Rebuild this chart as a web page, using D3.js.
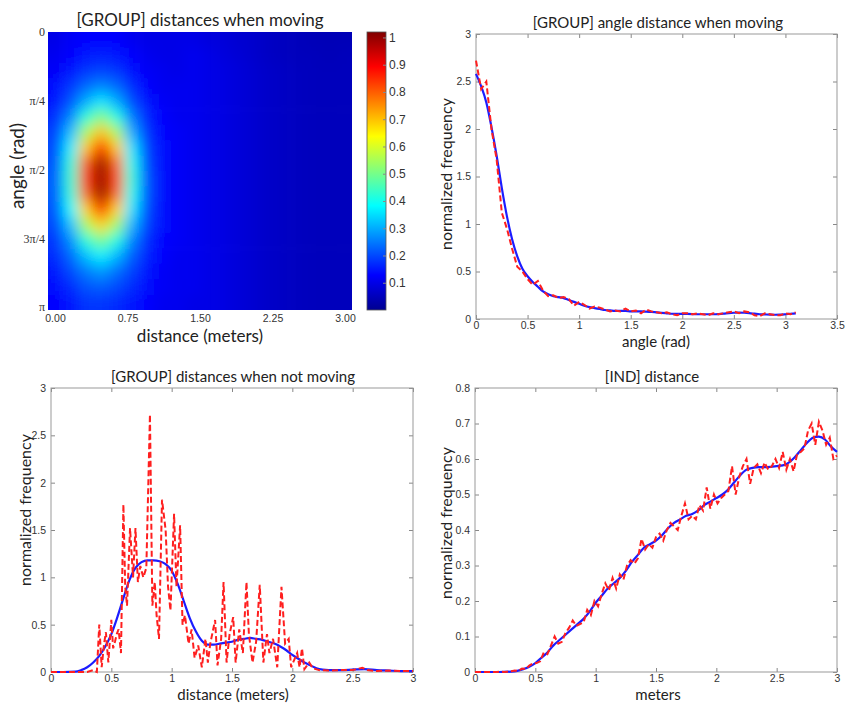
<!DOCTYPE html>
<html>
<head>
<meta charset="utf-8">
<script src="https://cdn.jsdelivr.net/npm/d3@7"></script>
<style>
  body { margin: 0; background: #fff; }
  text { font-family: "Liberation Sans", Arial, sans-serif; }
  .tick text { fill: #333; font-size: 10.5px; }
  .tick line { stroke: #888; }
  .lbl { font-family: Lato, "Open Sans", sans-serif; fill: #222; }
</style>
</head>
<body>
<div id="chart"></div>
<script>
// ---------- data ----------
// heatmap bins (bin centres)
var distBins = [0.075, 0.225, 0.375, 0.525, 0.675, 0.825, 0.975, 1.125, 1.275, 1.425,
                1.575, 1.725, 1.875, 2.025, 2.175, 2.325, 2.475, 2.625, 2.775, 2.925];
var angleBins = [0.09, 0.26, 0.44, 0.61, 0.79, 0.96, 1.13, 1.31, 1.48, 1.66,
                 1.83, 2.01, 2.18, 2.36, 2.53, 2.71, 2.88, 3.05];
// one row per angle bin, one value per distance bin
var heatValues = [
  [0.10,0.12,0.13,0.13,0.13,0.11,0.10,0.10,0.10,0.10,0.09,0.085,0.075,0.07,0.06,0.055,0.05,0.045,0.045,0.045],
  [0.11,0.13,0.15,0.16,0.15,0.13,0.11,0.10,0.10,0.11,0.10,0.09,0.08,0.07,0.06,0.055,0.05,0.05,0.045,0.05],
  [0.12,0.15,0.18,0.19,0.18,0.14,0.12,0.11,0.10,0.11,0.10,0.095,0.085,0.075,0.065,0.06,0.055,0.05,0.05,0.05],
  [0.14,0.18,0.23,0.26,0.23,0.17,0.13,0.11,0.11,0.11,0.10,0.095,0.085,0.075,0.065,0.06,0.055,0.05,0.05,0.05],
  [0.15,0.21,0.30,0.36,0.30,0.20,0.15,0.12,0.11,0.11,0.10,0.095,0.085,0.075,0.065,0.06,0.055,0.05,0.05,0.05],
  [0.17,0.26,0.42,0.51,0.41,0.25,0.16,0.13,0.11,0.11,0.10,0.095,0.085,0.075,0.065,0.06,0.055,0.05,0.05,0.05],
  [0.19,0.32,0.55,0.70,0.55,0.30,0.18,0.13,0.12,0.11,0.10,0.095,0.085,0.075,0.065,0.06,0.055,0.05,0.05,0.05],
  [0.20,0.37,0.69,0.89,0.69,0.36,0.19,0.14,0.12,0.11,0.10,0.095,0.085,0.075,0.065,0.06,0.055,0.05,0.05,0.05],
  [0.21,0.42,0.80,1.00,0.79,0.40,0.20,0.14,0.12,0.11,0.10,0.095,0.085,0.075,0.065,0.06,0.055,0.05,0.05,0.05],
  [0.22,0.43,0.84,1.00,0.83,0.42,0.21,0.14,0.12,0.11,0.10,0.095,0.085,0.075,0.065,0.06,0.055,0.05,0.05,0.05],
  [0.22,0.42,0.79,1.00,0.79,0.40,0.21,0.14,0.12,0.11,0.10,0.095,0.085,0.075,0.065,0.06,0.055,0.05,0.05,0.05],
  [0.21,0.38,0.68,0.87,0.68,0.36,0.20,0.14,0.12,0.11,0.10,0.095,0.085,0.075,0.065,0.06,0.055,0.05,0.05,0.05],
  [0.20,0.32,0.55,0.68,0.54,0.31,0.19,0.14,0.12,0.11,0.10,0.095,0.085,0.075,0.065,0.06,0.055,0.05,0.05,0.05],
  [0.18,0.27,0.42,0.50,0.41,0.26,0.17,0.13,0.12,0.11,0.10,0.095,0.085,0.075,0.065,0.06,0.055,0.05,0.05,0.05],
  [0.17,0.23,0.32,0.37,0.31,0.22,0.16,0.13,0.11,0.11,0.10,0.095,0.085,0.075,0.065,0.06,0.055,0.05,0.05,0.05],
  [0.15,0.20,0.25,0.28,0.24,0.19,0.15,0.12,0.11,0.11,0.10,0.095,0.085,0.075,0.065,0.06,0.055,0.05,0.05,0.05],
  [0.14,0.17,0.21,0.22,0.20,0.17,0.14,0.12,0.11,0.11,0.10,0.095,0.085,0.075,0.065,0.06,0.055,0.05,0.05,0.05],
  [0.13,0.15,0.18,0.18,0.17,0.15,0.13,0.11,0.11,0.10,0.10,0.095,0.085,0.075,0.065,0.06,0.055,0.05,0.05,0.05]
];
var heatXTicks = [0, 0.75, 1.5, 2.25, 3];
var heatXLabels = ["0.00", "0.75", "1.50", "2.25", "3.00"];
var heatYTicks = [0, Math.PI / 4, Math.PI / 2, 3 * Math.PI / 4, Math.PI];
var heatYLabels = ["0", "\u03c0/4", "\u03c0/2", "3\u03c0/4", "\u03c0"];
var colorbarTicks = [0.1, 0.2, 0.3, 0.4, 0.5, 0.6, 0.7, 0.8, 0.9, 1];

// [GROUP] angle distance when moving
var angleX = [0,0.05,0.1,0.15,0.2,0.25,0.3,0.35,0.4,0.45,0.5,0.55,0.6,0.65,0.7,0.75,0.8,0.85,0.9,0.95,
  1,1.05,1.1,1.15,1.2,1.25,1.3,1.35,1.4,1.45,1.5,1.55,1.6,1.65,1.7,1.75,1.8,1.85,1.9,1.95,
  2,2.05,2.1,2.15,2.2,2.25,2.3,2.35,2.4,2.45,2.5,2.55,2.6,2.65,2.7,2.75,2.8,2.85,2.9,2.95,3,3.05,3.1];
var angleRaw = [2.72,2.42,2.50,2.00,1.68,1.12,0.95,0.74,0.55,0.50,0.42,0.36,0.40,0.30,0.24,0.25,0.22,0.23,0.21,0.14,
  0.18,0.15,0.11,0.13,0.12,0.10,0.08,0.09,0.08,0.11,0.08,0.09,0.06,0.10,0.08,0.07,0.06,0.07,0.05,0.04,
  0.06,0.06,0.05,0.06,0.05,0.04,0.06,0.05,0.06,0.07,0.08,0.06,0.08,0.07,0.04,0.03,0.06,0.05,0.04,0.04,0.06,0.05,0.07];
var angleSmooth = [2.58,2.45,2.28,2.02,1.72,1.38,1.08,0.84,0.66,0.53,0.45,0.39,0.34,0.29,0.26,0.24,0.23,0.22,0.20,0.18,
  0.16,0.14,0.125,0.115,0.105,0.095,0.09,0.085,0.085,0.085,0.08,0.08,0.08,0.078,0.075,0.07,0.065,0.06,0.055,0.053,
  0.053,0.053,0.052,0.05,0.05,0.05,0.05,0.052,0.056,0.062,0.066,0.068,0.066,0.062,0.056,0.05,0.048,0.046,0.045,0.046,0.05,0.055,0.06];

// [GROUP] distances when not moving
var stillRawX = [0,0.1,0.2,0.3,0.35,0.38,0.40,0.42,0.44,0.455,0.475,0.50,0.515,0.53,0.545,0.56,0.58,0.60,0.615,0.63,
  0.655,0.68,0.70,0.72,0.74,0.765,0.79,0.82,0.84,0.86,0.875,0.895,0.92,0.95,0.97,0.99,1.02,1.04,1.07,1.09,
  1.11,1.14,1.165,1.19,1.22,1.25,1.28,1.30,1.32,1.36,1.38,1.41,1.43,1.455,1.48,1.51,1.53,1.56,1.59,1.62,
  1.64,1.67,1.70,1.73,1.76,1.79,1.81,1.84,1.875,1.91,1.94,1.97,1.99,2.04,2.06,2.08,2.10,2.14,2.17,2.22,
  2.3,2.4,2.5,2.58,2.62,2.7,2.8,2.9,3.0];
var stillRawY = [0,0,0,0,0.02,0,0.5,0.05,0.3,0.42,0.1,0.55,0.25,0.32,0.4,0.45,0.2,1.77,0.9,0.7,
  1.52,1.0,1.52,0.95,1.12,1.0,1.1,2.72,0.7,0.95,0.6,0.35,1.82,1.5,0.9,0.65,1.67,0.9,1.55,0.5,
  0.6,0.3,0.45,0.15,0.28,0.05,0.35,0.1,0.3,0.55,0.07,0.35,0.95,0.1,0.4,0.58,0.1,0.45,0.2,0.95,
  0.4,0.1,0.32,0.92,0.1,0.4,0.2,0.35,0.05,0.9,0.3,0.35,0.05,0.2,0.05,0.25,0.03,0.1,0.04,0.02,
  0.015,0.02,0.02,0.045,0.02,0.01,0.015,0.01,0.01];
var stillSmoothX = [0,0.1,0.2,0.25,0.3,0.35,0.4,0.45,0.5,0.55,0.6,0.65,0.7,0.75,0.8,0.85,0.9,0.95,1,1.05,
  1.1,1.15,1.2,1.25,1.3,1.35,1.4,1.45,1.5,1.55,1.6,1.65,1.7,1.75,1.8,1.85,1.9,1.95,2,2.05,
  2.1,2.15,2.2,2.25,2.3,2.4,2.5,2.6,2.7,2.8,2.9,3];
var stillSmoothY = [0,0,0.003,0.02,0.05,0.1,0.17,0.27,0.4,0.58,0.78,0.97,1.1,1.16,1.18,1.18,1.17,1.14,1.07,0.93,
  0.75,0.57,0.43,0.33,0.29,0.29,0.3,0.31,0.32,0.34,0.35,0.36,0.35,0.34,0.32,0.3,0.27,0.23,0.18,0.14,
  0.1,0.07,0.04,0.025,0.02,0.02,0.025,0.03,0.02,0.015,0.01,0.01];

// [IND] distance
var indRawX = [0,0.03,0.06,0.09,0.12,0.15,0.18,0.21,0.24,0.27,0.3,0.33,0.36,0.39,0.42,0.45,0.48,0.51,0.54,0.57,
  0.6,0.63,0.66,0.69,0.72,0.75,0.78,0.81,0.84,0.87,0.9,0.93,0.96,0.99,1.02,1.05,1.08,1.11,1.14,1.17,
  1.2,1.23,1.26,1.29,1.32,1.35,1.38,1.41,1.44,1.47,1.5,1.53,1.56,1.59,1.62,1.65,1.68,1.71,1.74,1.77,
  1.8,1.83,1.86,1.89,1.92,1.95,1.98,2.01,2.04,2.07,2.1,2.13,2.16,2.19,2.22,2.25,2.28,2.31,2.34,2.37,
  2.4,2.43,2.46,2.49,2.52,2.55,2.58,2.61,2.64,2.67,2.7,2.73,2.76,2.79,2.82,2.85,2.88,2.91,2.94,2.97,3];
var indRawY = [0,0,0,0,0,0,0,0.001,0,0.001,0.002,0.004,0.003,0.01,0.008,0.018,0.024,0.025,0.03,0.055,
  0.05,0.075,0.1,0.08,0.085,0.11,0.125,0.145,0.13,0.135,0.14,0.175,0.16,0.2,0.185,0.22,0.25,0.23,0.265,0.235,
  0.275,0.26,0.3,0.315,0.305,0.32,0.375,0.345,0.36,0.35,0.38,0.39,0.37,0.4,0.42,0.41,0.4,0.44,0.475,0.43,
  0.44,0.43,0.47,0.455,0.52,0.46,0.5,0.475,0.49,0.5,0.51,0.58,0.5,0.55,0.58,0.6,0.53,0.575,0.585,0.56,
  0.59,0.57,0.58,0.6,0.575,0.62,0.57,0.6,0.565,0.615,0.62,0.63,0.68,0.7,0.64,0.705,0.68,0.64,0.66,0.6,0.61];
var indSmoothX = [0,0.1,0.2,0.3,0.35,0.4,0.45,0.5,0.55,0.6,0.65,0.7,0.75,0.8,0.85,0.9,0.95,1,1.05,1.1,
  1.15,1.2,1.25,1.3,1.35,1.4,1.45,1.5,1.55,1.6,1.65,1.7,1.75,1.8,1.85,1.9,1.95,2,2.05,2.1,
  2.15,2.2,2.25,2.3,2.35,2.4,2.45,2.5,2.55,2.6,2.65,2.7,2.75,2.8,2.85,2.9,2.95,3];
var indSmoothY = [0,0,0,0.001,0.003,0.008,0.015,0.025,0.04,0.055,0.075,0.09,0.105,0.12,0.135,0.15,0.17,0.195,0.215,0.235,
  0.25,0.265,0.285,0.31,0.33,0.35,0.36,0.37,0.385,0.405,0.42,0.43,0.44,0.445,0.455,0.47,0.48,0.49,0.5,0.515,
  0.535,0.555,0.57,0.575,0.577,0.577,0.578,0.58,0.582,0.59,0.605,0.625,0.645,0.66,0.663,0.655,0.635,0.62];

var ticksHalf = [0, 0.5, 1, 1.5, 2, 2.5, 3];
var ticksHalf35 = [0, 0.5, 1, 1.5, 2, 2.5, 3, 3.5];
var ticksTenth = [0, 0.1, 0.2, 0.3, 0.4, 0.5, 0.6, 0.7, 0.8];

// ---------- svg ----------
var svgWidth = 849;
var svgHeight = 704;
var svg = d3.select("#chart").append("svg")
  .attr("width", svgWidth)
  .attr("height", svgHeight);
var defs = svg.append("defs");

var fmt = d3.format("~g");

// jet colour map, same stops for cells and colour bar
var jetStops = [0, 0.125, 0.375, 0.625, 0.875, 1];
var jetColors = ["#000090", "#0000ff", "#00ffff", "#ffff00", "#ff0000", "#800000"];
var cMax = 1.02;
var jet = d3.scaleLinear().domain(jetStops.map(s => s * cMax)).range(jetColors).clamp(true);

// ---------- heatmap ----------
var heat = { left: 48, right: 352, top: 32, bottom: 310 };
var hx = d3.scaleBand().domain(distBins).range([heat.left, heat.right]);
var hy = d3.scaleBand().domain(angleBins).range([heat.top, heat.bottom]);

defs.append("clipPath").attr("id", "heatClip")
  .append("rect")
  .attr("x", heat.left).attr("y", heat.top)
  .attr("width", heat.right - heat.left).attr("height", heat.bottom - heat.top);
defs.append("filter").attr("id", "soft")
  .attr("x", "-20%").attr("y", "-20%").attr("width", "140%").attr("height", "140%")
  .append("feGaussianBlur").attr("stdDeviation", 7);

var cells = [];
heatValues.forEach(function(row, j) {
  row.forEach(function(v, k) {
    cells.push({ d: distBins[k], a: angleBins[j], v: v, k: k, j: j });
  });
});
var lastK = distBins.length - 1, lastJ = angleBins.length - 1, pad = 24;

svg.append("g").attr("clip-path", "url(#heatClip)")
  .append("g").attr("filter", "url(#soft)")
  .selectAll("rect")
  .data(cells)
  .enter()
  .append("rect")
  .attr("x", d => hx(d.d) - (d.k === 0 ? pad : 0))
  .attr("y", d => hy(d.a) - (d.j === 0 ? pad : 0))
  .attr("width", d => hx.bandwidth() + 0.6 + (d.k === 0 || d.k === lastK ? pad : 0))
  .attr("height", d => hy.bandwidth() + 0.6 + (d.j === 0 || d.j === lastJ ? pad : 0))
  .attr("fill", d => jet(d.v));

// heatmap tick labels (image pixel centres sit slightly inside the frame)
var hTickX = d3.scaleLinear().domain([0, 3]).range([heat.left + 7, heat.right - 7]);
var hTickY = d3.scaleLinear().domain([0, Math.PI]).range([heat.top, heat.bottom - 3]);

svg.append("g")
  .attr("transform", `translate(0, ${heat.bottom})`)
  .call(d3.axisBottom(hTickX).tickValues(heatXTicks).tickSize(0).tickPadding(5)
    .tickFormat((d, i) => heatXLabels[i]))
  .call(a => a.select(".domain").remove());

svg.append("g")
  .attr("transform", `translate(${heat.left}, 0)`)
  .call(d3.axisLeft(hTickY).tickValues(heatYTicks).tickSize(0).tickPadding(3)
    .tickFormat((d, i) => heatYLabels[i]))
  .call(a => a.select(".domain").remove())
  .selectAll("text")
  .style("font-family", "'Liberation Serif', 'DejaVu Serif', serif")
  .style("font-size", "12px");

// colour bar
var cb = { left: 367, right: 386, top: 32, bottom: 310 };
var cy = d3.scaleLinear().domain([0, cMax]).range([cb.bottom, cb.top]);
var grad = defs.append("linearGradient").attr("id", "jetGrad")
  .attr("x1", 0).attr("y1", 1).attr("x2", 0).attr("y2", 0);
grad.selectAll("stop")
  .data(jetStops)
  .enter()
  .append("stop")
  .attr("offset", d => d)
  .attr("stop-color", (d, i) => jetColors[i]);

svg.append("rect")
  .attr("x", cb.left).attr("y", cb.top)
  .attr("width", cb.right - cb.left).attr("height", cb.bottom - cb.top)
  .attr("fill", "url(#jetGrad)")
  .attr("stroke", "#555").attr("stroke-width", 0.8);

svg.append("g")
  .attr("transform", `translate(${cb.right}, 0)`)
  .call(d3.axisRight(cy).tickValues(colorbarTicks).tickSizeInner(-3).tickSizeOuter(0).tickPadding(3)
    .tickFormat(fmt))
  .call(a => a.select(".domain").remove())
  .selectAll("text").style("font-size", "12px");

svg.append("text").attr("class", "lbl")
  .attr("x", 200).attr("y", 26)
  .attr("text-anchor", "middle").style("font-size", "17px")
  .text("[GROUP] distances when moving");
svg.append("text").attr("class", "lbl")
  .attr("x", 200).attr("y", 342)
  .attr("text-anchor", "middle").style("font-size", "17px")
  .text("distance (meters)");
svg.append("text").attr("class", "lbl")
  .attr("transform", "translate(24, 166) rotate(-90)")
  .attr("text-anchor", "middle").style("font-size", "19px")
  .text("angle (rad)");

// ---------- line panels ----------
function linePanel(box, xDomain, yDomain, xTicks, yTicks, labels) {
  var x = d3.scaleLinear().domain(xDomain).range([box.left, box.right]);
  var y = d3.scaleLinear().domain(yDomain).range([box.bottom, box.top]);
  var g = svg.append("g");

  g.append("g")
    .attr("transform", `translate(0, ${box.bottom})`)
    .call(d3.axisBottom(x).tickValues(xTicks).tickSizeInner(-4).tickSizeOuter(0).tickPadding(3).tickFormat(fmt))
    .call(a => a.select(".domain").remove());
  g.append("g")
    .attr("transform", `translate(0, ${box.top})`)
    .call(d3.axisTop(x).tickValues(xTicks).tickSizeInner(-4).tickSizeOuter(0).tickFormat(""))
    .call(a => a.select(".domain").remove());
  g.append("g")
    .attr("transform", `translate(${box.left}, 0)`)
    .call(d3.axisLeft(y).tickValues(yTicks).tickSizeInner(-4).tickSizeOuter(0).tickPadding(5).tickFormat(fmt))
    .call(a => a.select(".domain").remove());
  g.append("g")
    .attr("transform", `translate(${box.right}, 0)`)
    .call(d3.axisRight(y).tickValues(yTicks).tickSizeInner(-4).tickSizeOuter(0).tickFormat(""))
    .call(a => a.select(".domain").remove());

  g.append("rect")
    .attr("x", box.left).attr("y", box.top)
    .attr("width", box.right - box.left).attr("height", box.bottom - box.top)
    .attr("fill", "none").attr("stroke", "#999").attr("stroke-width", 1);

  g.append("text").attr("class", "lbl")
    .attr("x", labels.tx).attr("y", box.top - 6)
    .attr("text-anchor", "middle").style("font-size", "15px")
    .text(labels.title);
  g.append("text").attr("class", "lbl")
    .attr("x", labels.xx).attr("y", labels.xy)
    .attr("text-anchor", "middle").style("font-size", "15px")
    .text(labels.xlabel);
  g.append("text").attr("class", "lbl")
    .attr("transform", `translate(${labels.yx}, ${labels.yy}) rotate(-90)`)
    .attr("text-anchor", "middle").style("font-size", "16px")
    .text("normalized frequency");

  return { g: g, x: x, y: y };
}

function drawLines(p, sx, sy, rx, ry) {
  var smooth = sx.map((v, i) => [v, sy[i]]);
  var raw = rx.map((v, i) => [v, ry[i]]);
  var line = d3.line().x(d => p.x(d[0])).y(d => p.y(d[1]));
  p.g.append("path").datum(smooth)
    .attr("d", line.curve(d3.curveMonotoneX))
    .attr("fill", "none").attr("stroke", "#1c1cff").attr("stroke-width", 2.2);
  p.g.append("path").datum(raw)
    .attr("d", line.curve(d3.curveLinear))
    .attr("fill", "none").attr("stroke", "#ff1f1f").attr("stroke-width", 2)
    .attr("stroke-dasharray", "6,3");
}

var pAngle = linePanel({ left: 476, right: 837, top: 34, bottom: 319 }, [0, 3.5], [0, 3], ticksHalf35, ticksHalf,
  { title: "[GROUP] angle distance when moving", tx: 658, xlabel: "angle (rad)", xx: 656, xy: 347, yx: 452, yy: 174 });
drawLines(pAngle, angleX, angleSmooth, angleX, angleRaw);

var pStill = linePanel({ left: 51, right: 413, top: 388, bottom: 672 }, [0, 3], [0, 3], ticksHalf, ticksHalf,
  { title: "[GROUP] distances when not moving", tx: 233, xlabel: "distance (meters)", xx: 233, xy: 700, yx: 31, yy: 510 });
drawLines(pStill, stillSmoothX, stillSmoothY, stillRawX, stillRawY);

var pInd = linePanel({ left: 475, right: 837, top: 388, bottom: 672 }, [0, 3], [0, 0.8], ticksHalf, ticksTenth,
  { title: "[IND] distance", tx: 652, xlabel: "meters", xx: 658, xy: 700, yx: 452, yy: 523 });
drawLines(pInd, indSmoothX, indSmoothY, indRawX, indRawY);
</script>
</body>
</html>
